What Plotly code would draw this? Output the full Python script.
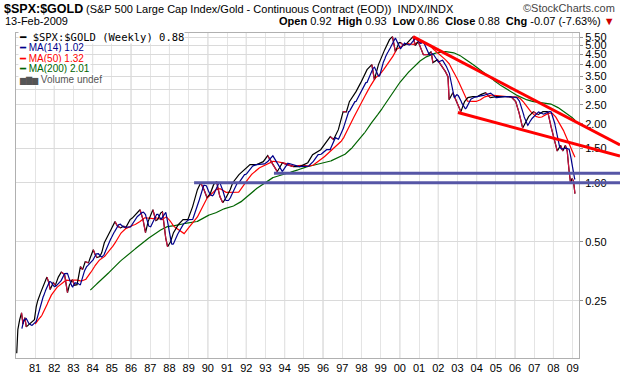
import pandas as pd
import numpy as np
import plotly.graph_objects as go

# ---------------- data ----------------
dates = [
    "1980-01-18", "1980-02-08", "1980-03-14", "1980-04-18", "1980-05-16", "1980-06-20", "1980-07-18", "1980-09-12", "1980-11-14", "1980-12-19",
    "1981-01-23", "1981-02-20", "1981-04-17", "1981-06-19", "1981-08-14", "1981-09-18", "1981-10-16", "1981-12-11",
    "1982-01-22", "1982-03-19", "1982-05-14", "1982-07-16", "1982-09-10", "1982-10-15", "1982-12-10",
    "1983-01-21", "1983-03-11", "1983-05-13", "1983-06-24", "1983-08-12", "1983-10-14", "1983-11-18",
    "1984-01-13", "1984-02-17", "1984-03-23", "1984-05-18", "1984-06-22", "1984-08-10", "1984-10-12", "1984-12-14",
    "1985-03-01", "1985-04-19", "1985-06-14", "1985-08-16", "1985-09-20", "1985-12-13",
    "1986-01-24", "1986-03-21", "1986-06-20", "1986-08-15", "1986-10-03", "1986-11-21",
    "1987-02-20", "1987-04-17", "1987-05-22", "1987-07-17", "1987-08-21", "1987-10-23", "1987-11-27",
    "1988-01-22", "1988-03-18", "1988-06-17", "1988-09-16", "1988-12-16",
    "1989-03-17", "1989-06-16", "1989-08-18", "1989-10-20", "1989-12-15",
    "1990-02-16", "1990-04-20", "1990-06-15", "1990-08-17", "1990-10-12", "1990-12-14",
    "1991-03-01", "1991-04-19", "1991-08-16", "1991-12-27",
    "1992-03-13", "1992-07-17", "1992-11-20",
    "1993-02-12", "1993-05-21", "1993-08-13", "1993-11-19",
    "1994-02-11", "1994-06-17", "1994-10-14",
    "1995-03-17", "1995-06-16", "1995-11-17",
    "1996-05-17", "1996-07-19", "1996-10-18",
    "1997-01-17", "1997-03-21", "1997-05-16", "1997-09-19", "1997-12-19",
    "1998-04-17", "1998-07-17", "1998-09-04", "1998-11-20",
    "1999-01-15", "1999-03-19", "1999-06-18", "1999-08-13", "1999-10-08", "1999-12-17",
    "2000-01-14", "2000-03-17", "2000-04-21", "2000-07-14", "2000-09-08", "2000-10-20", "2000-12-15",
    "2001-03-23", "2001-06-15", "2001-08-17", "2001-09-21", "2001-12-14",
    "2002-03-15", "2002-05-17", "2002-07-05", "2002-07-26", "2002-10-04", "2002-12-13",
    "2003-03-07", "2003-05-16", "2003-07-18", "2003-10-17",
    "2004-01-16", "2004-03-19", "2004-06-18", "2004-09-17",
    "2005-01-14", "2005-05-20", "2005-10-14",
    "2006-01-13", "2006-03-17", "2006-05-26", "2006-07-14", "2006-09-15", "2006-12-15",
    "2007-03-16", "2007-06-15", "2007-09-14", "2007-11-16",
    "2008-01-18", "2008-02-15", "2008-03-14", "2008-05-16", "2008-06-27", "2008-08-15", "2008-09-19", "2008-10-24", "2008-11-21", "2008-12-19",
    "2009-01-16", "2009-02-13",
]
ratio = [
    0.135, 0.178, 0.20, 0.217, 0.19, 0.205, 0.184, 0.19, 0.196, 0.20,
    0.233, 0.25, 0.275, 0.30, 0.33, 0.31, 0.285, 0.309,
    0.30, 0.33, 0.35, 0.34, 0.275, 0.30, 0.32,
    0.30, 0.302, 0.373, 0.36, 0.395, 0.39, 0.415,
    0.455, 0.43, 0.415, 0.42, 0.44, 0.494, 0.53, 0.576,
    0.633, 0.60, 0.589, 0.60, 0.589, 0.648,
    0.66, 0.687, 0.728, 0.65, 0.556, 0.633,
    0.728, 0.64, 0.648, 0.70, 0.711, 0.52, 0.471,
    0.50, 0.556, 0.611, 0.648, 0.648,
    0.755, 0.921, 1.00, 0.92, 0.84,
    0.88, 0.977, 1.012, 0.85, 0.79, 0.84,
    0.921, 1.0, 1.099, 1.193,
    1.236, 1.236, 1.28,
    1.373, 1.236, 1.138, 1.265,
    1.236, 1.207, 1.207,
    1.265, 1.389, 1.473,
    1.717, 1.66, 1.864,
    2.303, 2.30, 2.59, 2.913, 3.238,
    3.772, 4.0, 3.354, 4.0,
    4.394, 4.771, 5.366, 5.559, 4.66, 5.18,
    5.18, 5.0, 5.06, 5.366, 5.559, 5.0, 5.241,
    4.5, 4.498, 4.66, 4.095, 4.242,
    3.907, 3.684, 3.474, 2.651, 2.878, 2.60,
    2.303, 2.59, 2.715, 2.747,
    2.75, 2.812, 2.878, 2.715,
    2.747, 2.747, 2.747,
    2.59, 2.276, 1.90, 2.024, 2.172, 2.303,
    2.223, 2.303, 2.303, 1.931,
    1.65, 1.55, 1.45, 1.55, 1.45, 1.55, 1.45, 1.15, 1.0, 1.05,
    1.02, 0.88,
]

# hand-drawn trend lines / support lines (date, value)
trend_a_dates = ["2000-09-08", "2011-06-20"]
trend_a_vals = [5.56, 1.557]
trend_b_dates = ["2003-01-10", "2011-06-20"]
trend_b_vals = [2.28, 1.368]
support_1_dates = ["1989-04-14", "2011-06-20"]
support_1_vals = [1.0, 1.0]
support_2_dates = ["1993-06-11", "2011-06-20"]
support_2_vals = [1.117, 1.117]

y_tick_vals = [0.25, 0.5, 1.0, 1.5, 2.0, 2.5, 3.0, 3.5, 4.0, 4.5, 5.0, 5.5]
y_tick_text = ["0.25", "0.50", "1.00", "1.50", "2.00", "2.50", "3.00", "3.50", "4.00", "4.50", "5.00", "5.50"]
year_list = list(range(1981, 2010))
year_labels = [f"{y % 100:02d}" for y in year_list]

# ---------------- derived ----------------
s = pd.Series(ratio, index=pd.to_datetime(dates))
held = s.resample("D").ffill()          # each reading holds until the next one


def moving_avg(weeks):
    n = weeks * 7
    m = held.rolling(n, min_periods=n).mean()
    return m.resample("W-FRI").last().dropna()


ma14 = moving_avg(14)
ma50 = moving_avg(50)
ma200 = moving_avg(200)

dn_x, dn_y = [], []
for i in range(1, len(s)):
    if s.iloc[i] < s.iloc[i - 1]:
        dn_x += [s.index[i - 1], s.index[i], None]
        dn_y += [s.iloc[i - 1], s.iloc[i], None]

# ---------------- geometry ----------------
W, H = 620, 376
L, R, T, B = 16, 579, 33, 358
X0 = pd.Timestamp("1980-01-04")
X1 = pd.Timestamp("2009-05-01")
frac = (R - L) / (W - L)
X2 = X0 + (X1 - X0) / frac
YR = [np.log10(0.1276), np.log10(5.80)]


def px(x):
    return (x - L) / (W - L)


def py(y):
    return (B - y) / (B - T)


fig = go.Figure()
fig.add_trace(go.Scatter(x=ma200.index, y=ma200.values, mode="lines",
                         line=dict(color="#006400", width=1.2), hoverinfo="skip"))
fig.add_trace(go.Scatter(x=ma50.index, y=ma50.values, mode="lines",
                         line=dict(color="#ff0000", width=1.2), hoverinfo="skip"))
fig.add_trace(go.Scatter(x=s.index, y=s.values, mode="lines",
                         line=dict(color="#000000", width=1.2)))
fig.add_trace(go.Scatter(x=dn_x, y=dn_y, mode="lines",
                         line=dict(color="#d01040", width=1.2), hoverinfo="skip"))
fig.add_trace(go.Scatter(x=ma14.index, y=ma14.values, mode="lines",
                         line=dict(color="#00008b", width=1.2), hoverinfo="skip"))

for dts, vals, col in [
    (support_1_dates, support_1_vals, "#5656a6"),
    (support_2_dates, support_2_vals, "#5656a6"),
    (trend_a_dates, trend_a_vals, "#ff0000"),
    (trend_b_dates, trend_b_vals, "#ff0000"),
]:
    fig.add_trace(go.Scatter(x=dts, y=vals, mode="lines", xaxis="x2", yaxis="y2",
                             line=dict(color=col, width=3), hoverinfo="skip"))

# darker gridlines for even years
for yv in year_list:
    if yv % 2 == 0:
        fig.add_shape(type="line", xref="x", yref="paper", x0=f"{yv}-01-01", x1=f"{yv}-01-01",
                      y0=0, y1=1, line=dict(color="#c8c8c8", width=1), layer="below")

tick_font = dict(family="Liberation Sans, Arial, sans-serif", size=11, color="#000")
fig.update_layout(
    width=W, height=H,
    margin=dict(l=L, r=0, t=T, b=H - B, pad=0),
    paper_bgcolor="white", plot_bgcolor="rgba(0,0,0,0)",
    showlegend=False,
    xaxis=dict(domain=[0, frac], type="date", range=[X0, X1],
               tickvals=[f"{y}-01-01" for y in year_list], ticktext=year_labels,
               showgrid=True, gridcolor="#e4e4e4", gridwidth=1,
               showline=True, mirror=True, linecolor="#b0b0b0", linewidth=1,
               ticks="", tickfont=tick_font, zeroline=False),
    yaxis=dict(type="log", range=YR, side="right",
               tickvals=y_tick_vals, ticktext=y_tick_text,
               showgrid=True, gridcolor="#dadada", gridwidth=1,
               showline=True, mirror=True, linecolor="#b0b0b0", linewidth=1,
               ticks="outside", ticklen=3, tickcolor="#909090",
               tickfont=tick_font, zeroline=False),
    xaxis2=dict(domain=[0, 1], type="date", range=[X0, X2], visible=False, anchor="y2"),
    yaxis2=dict(domain=[0, 1], type="log", range=YR, visible=False, anchor="x2"),
)

ann = []
hdr = "Liberation Sans, Arial, sans-serif"
ann.append(dict(x=px(2), y=py(9), text="<b>$SPX:$GOLD</b>",
                font=dict(family=hdr, size=12.5, color="#000"),
                xanchor="left", yanchor="middle"))
ann.append(dict(x=px(84), y=py(9), text="(S&P 500 Large Cap Index/Gold - Continuous Contract (EOD))  INDX/INDX",
                font=dict(family=hdr, size=11, color="#000"), xanchor="left", yanchor="middle"))
ann.append(dict(x=px(617), y=py(8), text="©StockCharts.com",
                font=dict(family=hdr, size=11, color="#444"), xanchor="right", yanchor="middle"))
ann.append(dict(x=px(3), y=py(21), text="13-Feb-2009",
                font=dict(family=hdr, size=11, color="#000"), xanchor="left", yanchor="middle"))
ann.append(dict(x=px(617), y=py(21),
                text="<b>Open</b> 0.92  <b>High</b> 0.93  <b>Low</b> 0.86  <b>Close</b> 0.88  <b>Chg</b> -0.07 (-7.63%) <span style='color:#cc0000'>▼</span>",
                font=dict(family=hdr, size=11, color="#000"), xanchor="right", yanchor="middle"))

leg = [
    ("━ $SPX:$GOLD (Weekly) 0.88", "#000000", 37, "DejaVu Sans Mono, monospace", 10.5),
    ("━ MA(14) 1.02", "#00008b", 48, hdr, 10),
    ("━ MA(50) 1.32", "#ff0000", 58.5, hdr, 10),
    ("━ MA(200) 2.01", "#006400", 69, hdr, 10),
    ("<span style='font-size:8px'>▆▇▆</span> Volume undef", "#555555", 79.5, hdr, 10),
]
for txt, col, yy, fam, fs in leg:
    ann.append(dict(x=px(18), y=py(yy), text=txt, font=dict(family=fam, size=fs, color=col),
                    xanchor="left", yanchor="middle", bgcolor="white", borderpad=0))

for a in ann:
    a.update(xref="paper", yref="paper", showarrow=False)
fig.update_layout(annotations=ann)

fig.write_html("out.html", config={"displayModeBar": False},
               post_script="document.body.style.margin='0px';document.body.style.overflow='hidden';")
